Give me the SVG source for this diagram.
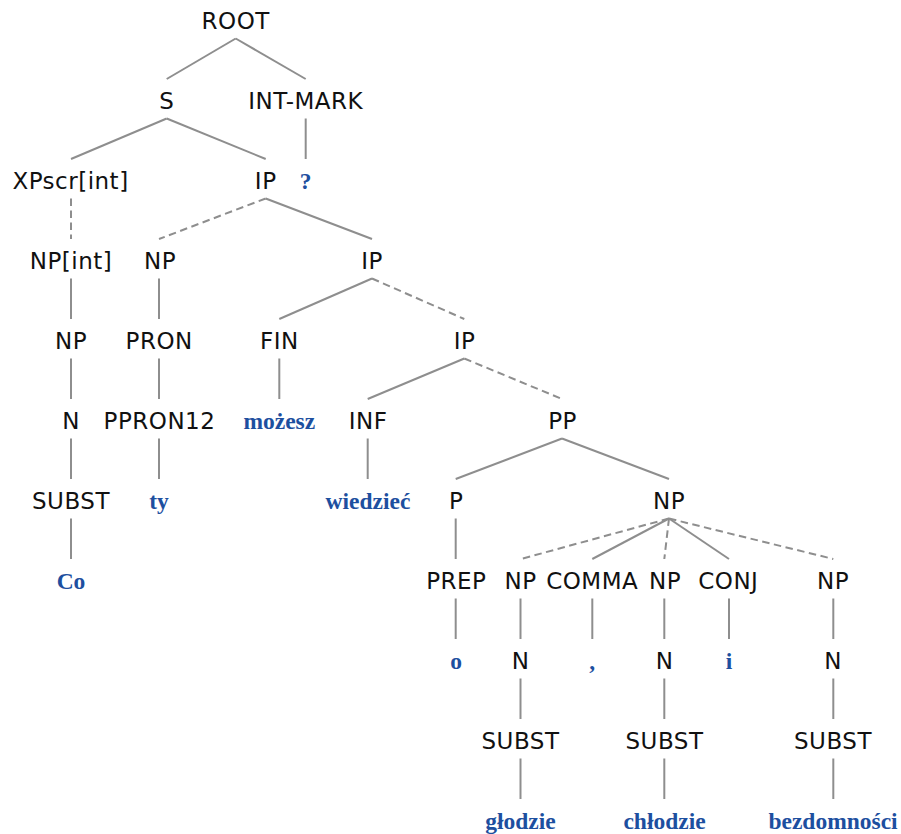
<svg xmlns="http://www.w3.org/2000/svg" width="901" height="834" viewBox="0 0 901 834">
<style>
.l{font-family:"DejaVu Sans",Verdana,sans-serif;font-size:23px;fill:#111;text-anchor:middle;letter-spacing:0.5px}
.w{font-family:"Liberation Serif","Times New Roman",serif;font-size:23.5px;font-weight:bold;fill:#1d4f9f;text-anchor:middle}
.e{stroke:#8e8e8e;stroke-width:2;fill:none}
.d{stroke:#8e8e8e;stroke-width:2;fill:none;stroke-dasharray:7.5 4.5}
</style>
<rect width="901" height="834" fill="#fff"/>
<g id="connectors">
<line class="e" x1="235.7" y1="38.5" x2="166.7" y2="79"/>
<line class="e" x1="235.7" y1="38.5" x2="305.7" y2="79"/>
<line class="e" x1="166.7" y1="118.5" x2="71" y2="159"/>
<line class="e" x1="166.7" y1="118.5" x2="265.7" y2="159"/>
<line class="e" x1="305.7" y1="118.5" x2="305.7" y2="159"/>
<line class="d" x1="71" y1="198.5" x2="71" y2="239"/>
<line class="d" x1="265.7" y1="198.5" x2="159" y2="239"/>
<line class="e" x1="265.7" y1="198.5" x2="372" y2="239"/>
<line class="e" x1="71" y1="278.5" x2="71" y2="319"/>
<line class="e" x1="159" y1="278.5" x2="159" y2="319"/>
<line class="e" x1="372" y1="278.5" x2="279.3" y2="319"/>
<line class="d" x1="372" y1="278.5" x2="464.3" y2="319"/>
<line class="e" x1="71" y1="358.5" x2="71" y2="399"/>
<line class="e" x1="159" y1="358.5" x2="159" y2="399"/>
<line class="e" x1="279.3" y1="358.5" x2="279.3" y2="399"/>
<line class="e" x1="464.3" y1="358.5" x2="367.7" y2="399"/>
<line class="d" x1="464.3" y1="358.5" x2="562" y2="399"/>
<line class="e" x1="71" y1="438.5" x2="71" y2="479"/>
<line class="e" x1="159" y1="438.5" x2="159" y2="479"/>
<line class="e" x1="367.7" y1="438.5" x2="367.7" y2="479"/>
<line class="e" x1="562" y1="438.5" x2="455.7" y2="479"/>
<line class="e" x1="562" y1="438.5" x2="669" y2="479"/>
<line class="e" x1="71" y1="518.5" x2="71" y2="559"/>
<line class="e" x1="455.7" y1="518.5" x2="455.7" y2="559"/>
<line class="d" x1="669" y1="518.5" x2="521" y2="559"/>
<line class="e" x1="669" y1="518.5" x2="592.3" y2="559"/>
<line class="d" x1="669" y1="518.5" x2="664.3" y2="559"/>
<line class="e" x1="669" y1="518.5" x2="729" y2="559"/>
<line class="d" x1="669" y1="518.5" x2="833.3" y2="559"/>
<line class="e" x1="455.7" y1="598.5" x2="455.7" y2="639"/>
<line class="e" x1="520.5" y1="598.5" x2="520.5" y2="639"/>
<line class="e" x1="592.3" y1="598.5" x2="592.3" y2="639"/>
<line class="e" x1="664.3" y1="598.5" x2="664.3" y2="639"/>
<line class="e" x1="729" y1="598.5" x2="729" y2="639"/>
<line class="e" x1="833.3" y1="598.5" x2="833.3" y2="639"/>
<line class="e" x1="520.5" y1="678.5" x2="520.5" y2="719"/>
<line class="e" x1="664.3" y1="678.5" x2="664.3" y2="719"/>
<line class="e" x1="833.3" y1="678.5" x2="833.3" y2="719"/>
<line class="e" x1="520.5" y1="758.5" x2="520.5" y2="799"/>
<line class="e" x1="664.3" y1="758.5" x2="664.3" y2="799"/>
<line class="e" x1="833.3" y1="758.5" x2="833.3" y2="799"/>
</g>
<g id="n-root"><text class="l" x="235.7" y="28.5">ROOT</text></g>
<g id="n-s"><text class="l" x="166.7" y="108.5">S</text></g>
<g id="n-intmark"><text class="l" x="305.7" y="108.5">INT-MARK</text></g>
<g id="n-xpscr"><text class="l" x="70.5" y="188.5">XPscr[int]</text></g>
<g id="n-ip1"><text class="l" x="265.7" y="188.5">IP</text></g>
<g id="w-q"><text class="w" x="305.7" y="188.5">?</text></g>
<g id="n-npint"><text class="l" x="71" y="268.5">NP[int]</text></g>
<g id="n-np1"><text class="l" x="160" y="268.5">NP</text></g>
<g id="n-ip2"><text class="l" x="372" y="268.5">IP</text></g>
<g id="n-np2"><text class="l" x="71" y="348.5">NP</text></g>
<g id="n-pron"><text class="l" x="159.2" y="348.5">PRON</text></g>
<g id="n-fin"><text class="l" x="279.3" y="348.5">FIN</text></g>
<g id="n-ip3"><text class="l" x="464.5" y="348.5">IP</text></g>
<g id="n-n1"><text class="l" x="71" y="428.5">N</text></g>
<g id="n-ppron12"><text class="l" x="159.5" y="428.5">PPRON12</text></g>
<g id="w-mozesz"><text class="w" x="279.3" y="428.5">możesz</text></g>
<g id="n-inf"><text class="l" x="368" y="428.5">INF</text></g>
<g id="n-pp"><text class="l" x="562.5" y="428.5">PP</text></g>
<g id="n-subst1"><text class="l" x="71" y="508.5">SUBST</text></g>
<g id="w-ty"><text class="w" x="159" y="508.5">ty</text></g>
<g id="w-wiedziec"><text class="w" x="368" y="508.5">wiedzieć</text></g>
<g id="n-p"><text class="l" x="456.3" y="508.5">P</text></g>
<g id="n-np3"><text class="l" x="669" y="508.5">NP</text></g>
<g id="w-co"><text class="w" x="71" y="588.5">Co</text></g>
<g id="n-prep"><text class="l" x="456.3" y="588.5">PREP</text></g>
<g id="n-np4"><text class="l" x="520.5" y="588.5">NP</text></g>
<g id="n-comma"><text class="l" x="592.2" y="588.5">COMMA</text></g>
<g id="n-np5"><text class="l" x="665" y="588.5">NP</text></g>
<g id="n-conj"><text class="l" x="728.3" y="588.5">CONJ</text></g>
<g id="n-np6"><text class="l" x="833" y="588.5">NP</text></g>
<g id="w-o"><text class="w" x="456" y="668.5">o</text></g>
<g id="n-n2"><text class="l" x="520.5" y="668.5">N</text></g>
<g id="w-comma"><text class="w" x="592.3" y="668.5">,</text></g>
<g id="n-n3"><text class="l" x="664.5" y="668.5">N</text></g>
<g id="w-i"><text class="w" x="729" y="668.5">i</text></g>
<g id="n-n4"><text class="l" x="833" y="668.5">N</text></g>
<g id="n-subst2"><text class="l" x="520.5" y="748.5">SUBST</text></g>
<g id="n-subst3"><text class="l" x="664.5" y="748.5">SUBST</text></g>
<g id="n-subst4"><text class="l" x="833" y="748.5">SUBST</text></g>
<g id="w-glodzie"><text class="w" x="520.5" y="828.5">głodzie</text></g>
<g id="w-chlodzie"><text class="w" x="664.5" y="828.5">chłodzie</text></g>
<g id="w-bezdomnosci"><text class="w" x="833" y="828.5">bezdomności</text></g>
</svg>
